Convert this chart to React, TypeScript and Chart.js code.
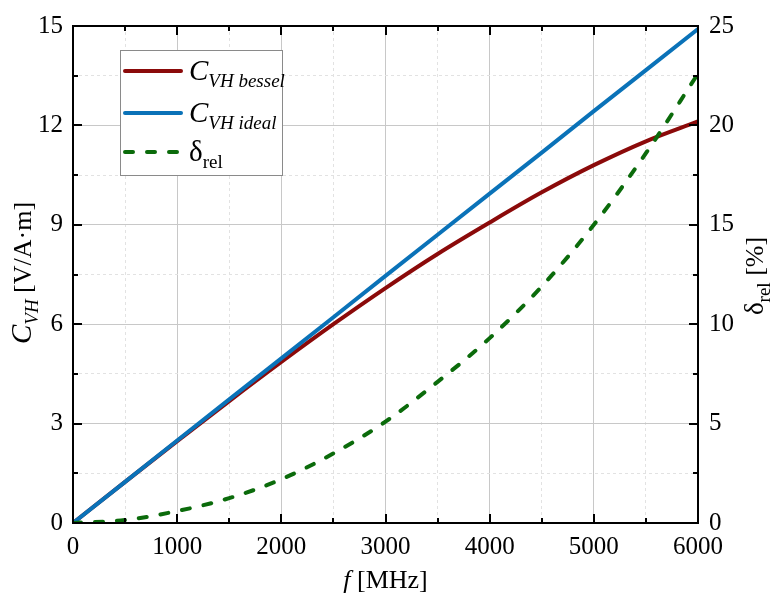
import { useRef, useEffect } from 'react';
import { Chart, registerables } from 'chart.js';

Chart.register(...registerables);

// values
const freqMHz = [0, 500, 1000, 1500, 2000, 2500, 3000, 3500, 4000, 4500, 5000, 5500, 6000];
const cvhIdeal = [0, 1.24, 2.49, 3.73, 4.97, 6.21, 7.46, 8.7, 9.94, 11.18, 12.43, 13.67, 14.91];
const cvhBessel = [0, 1.24, 2.47, 3.68, 4.86, 6.0, 7.09, 8.12, 9.07, 9.98, 10.8, 11.52, 12.12];
const deltaRel = [0, 0.15, 0.6, 1.25, 2.2, 3.5, 5.1, 7.1, 9.3, 11.9, 15.0, 18.6, 22.6];

const RED = '#8b0a0a';
const BLUE = '#0a72b8';
const GREEN = '#0b6b0b';
const SERIF = '"Liberation Serif", "DejaVu Serif", serif';
const DASH = [8, 14];

const isMultiple = (v: number, m: number) => Math.abs(v / m - Math.round(v / m)) < 1e-6;

interface Part {
  t: string;
  font: string;
  dy?: number;
}

function partsWidth(ctx: CanvasRenderingContext2D, parts: Part[]) {
  let w = 0;
  for (const p of parts) {
    ctx.font = p.font;
    w += ctx.measureText(p.t).width;
  }
  return w;
}

function drawParts(ctx: CanvasRenderingContext2D, parts: Part[], x: number, y: number, center: boolean) {
  let cx = center ? x - partsWidth(ctx, parts) / 2 : x;
  ctx.textBaseline = 'alphabetic';
  ctx.textAlign = 'left';
  ctx.fillStyle = '#000';
  for (const p of parts) {
    ctx.font = p.font;
    ctx.fillText(p.t, cx, y + (p.dy || 0));
    cx += ctx.measureText(p.t).width;
  }
}

const decorPlugin = {
  id: 'decor',
  afterDraw(chart: any) {
    const ctx: CanvasRenderingContext2D = chart.ctx;
    const { left, right, top, bottom } = chart.chartArea;
    const sx = chart.scales.x;
    const sy = chart.scales.y;
    const sy1 = chart.scales.y1;
    ctx.save();

    // inward ticks
    ctx.strokeStyle = '#000';
    ctx.lineWidth = 2;
    ctx.beginPath();
    for (const t of sx.ticks) {
      const px = Math.round(sx.getPixelForValue(t.value));
      const len = isMultiple(t.value, 1000) ? 9 : 5;
      ctx.moveTo(px, bottom);
      ctx.lineTo(px, bottom - len);
      ctx.moveTo(px, top);
      ctx.lineTo(px, top + len);
    }
    for (const t of sy.ticks) {
      const py = Math.round(sy.getPixelForValue(t.value));
      const len = isMultiple(t.value, 3) ? 9 : 5;
      ctx.moveTo(left, py);
      ctx.lineTo(left + len, py);
    }
    for (const t of sy1.ticks) {
      const py = Math.round(sy1.getPixelForValue(t.value));
      const len = isMultiple(t.value, 5) ? 9 : 5;
      ctx.moveTo(right, py);
      ctx.lineTo(right - len, py);
    }
    ctx.stroke();

    // frame
    ctx.strokeRect(left, top, right - left, bottom - top);

    // axis titles
    drawParts(
      ctx,
      [
        { t: 'f', font: `italic 26px ${SERIF}` },
        { t: ' [MHz]', font: `26px ${SERIF}` },
      ],
      (left + right) / 2,
      588,
      true
    );

    ctx.save();
    ctx.translate(31, 273);
    ctx.rotate(-Math.PI / 2);
    drawParts(
      ctx,
      [
        { t: 'C', font: `italic 29px ${SERIF}` },
        { t: 'VH', font: `italic 19px ${SERIF}`, dy: 7 },
        { t: ' [V/A\u00b7m]', font: `26px ${SERIF}` },
      ],
      0,
      0,
      true
    );
    ctx.restore();

    ctx.save();
    ctx.translate(763, 276);
    ctx.rotate(-Math.PI / 2);
    drawParts(
      ctx,
      [
        { t: '\u03b4', font: `27px ${SERIF}` },
        { t: 'rel', font: `19px ${SERIF}`, dy: 7 },
        { t: ' [%]', font: `26px ${SERIF}` },
      ],
      0,
      0,
      true
    );
    ctx.restore();

    // legend
    ctx.fillStyle = '#fff';
    ctx.fillRect(120, 50, 162, 125);
    ctx.strokeStyle = '#8a8a8a';
    ctx.lineWidth = 1;
    ctx.strokeRect(120.5, 50.5, 162, 125);

    const entries = [
      { color: RED, dash: [] as number[], y: 71, main: 'C', sub: 'VH bessel', italic: true },
      { color: BLUE, dash: [] as number[], y: 113, main: 'C', sub: 'VH ideal', italic: true },
      { color: GREEN, dash: DASH, y: 152, main: '\u03b4', sub: 'rel', italic: false },
    ];
    for (const e of entries) {
      ctx.strokeStyle = e.color;
      ctx.lineWidth = 4;
      ctx.lineCap = 'round';
      ctx.setLineDash(e.dash);
      ctx.beginPath();
      ctx.moveTo(125, e.y);
      ctx.lineTo(181, e.y);
      ctx.stroke();
      ctx.setLineDash([]);
      const it = e.italic ? 'italic ' : '';
      drawParts(
        ctx,
        [
          { t: e.main, font: `${it}29px ${SERIF}` },
          { t: e.sub, font: `${it}19px ${SERIF}`, dy: 7 },
        ],
        189,
        e.y + 9,
        false
      );
    }

    ctx.restore();
  },
};

function App() {
  const chartRef = useRef<HTMLCanvasElement | null>(null);
  const chartInstance = useRef<Chart | null>(null);

  useEffect(() => {
    document.body.style.margin = '0';
    if (chartInstance.current) {
      chartInstance.current.destroy();
    }
    if (!chartRef.current) return;
    const ctx = chartRef.current.getContext('2d');
    if (!ctx) return;

    const toPoints = (ys: number[]) => freqMHz.map((f, i) => ({ x: f, y: ys[i] }));

    const gridColor = (c: any) => {
      const major = c.tick && c.tick.label !== '';
      return major ? '#c8c8c8' : '#e2e2e2';
    };
    const gridDash = (c: any) => (c.tick && c.tick.label !== '' ? [] : [3, 3]);
    const tickFont = { family: SERIF, size: 25 };

    chartInstance.current = new Chart(ctx, {
      type: 'line',
      data: {
        datasets: [
          {
            label: 'δrel',
            data: toPoints(deltaRel),
            yAxisID: 'y1',
            borderColor: GREEN,
            borderWidth: 4,
            borderDash: DASH,
            borderCapStyle: 'round',
            pointRadius: 0,
            cubicInterpolationMode: 'monotone',
            order: 0,
          },
          {
            label: 'CVH ideal',
            data: toPoints(cvhIdeal),
            yAxisID: 'y',
            borderColor: BLUE,
            borderWidth: 4,
            pointRadius: 0,
            order: 1,
          },
          {
            label: 'CVH bessel',
            data: toPoints(cvhBessel),
            yAxisID: 'y',
            borderColor: RED,
            borderWidth: 4,
            pointRadius: 0,
            cubicInterpolationMode: 'monotone',
            order: 2,
          },
        ],
      },
      options: {
        responsive: true,
        maintainAspectRatio: false,
        animation: false,
        layout: { padding: { top: 19, left: 0, right: 0, bottom: 0 } },
        plugins: {
          legend: { display: false },
          tooltip: { enabled: false },
        },
        scales: {
          x: {
            type: 'linear',
            min: 0,
            max: 6000,
            afterFit: (s: any) => {
              s.height = 77;
            },
            ticks: {
              stepSize: 500,
              autoSkip: false,
              maxRotation: 0,
              padding: 9,
              color: '#000',
              font: tickFont,
              callback: (v: any) => (isMultiple(Number(v), 1000) ? String(v) : ''),
            },
            grid: { color: gridColor, drawTicks: false, lineWidth: 1 },
            border: { display: false, dash: gridDash },
          },
          y: {
            type: 'linear',
            position: 'left',
            min: 0,
            max: 15,
            afterFit: (s: any) => {
              s.width = 73;
            },
            ticks: {
              stepSize: 1.5,
              autoSkip: false,
              padding: 10,
              color: '#000',
              font: tickFont,
              callback: (v: any) => (isMultiple(Number(v), 3) ? String(Math.round(Number(v))) : ''),
            },
            grid: { color: gridColor, drawTicks: false, lineWidth: 1 },
            border: { display: false, dash: gridDash },
          },
          y1: {
            type: 'linear',
            position: 'right',
            min: 0,
            max: 25,
            afterFit: (s: any) => {
              s.width = 85;
            },
            ticks: {
              stepSize: 2.5,
              autoSkip: false,
              padding: 11,
              color: '#000',
              font: tickFont,
              callback: (v: any) => (isMultiple(Number(v), 5) ? String(Math.round(Number(v))) : ''),
            },
            grid: { drawOnChartArea: false, drawTicks: false },
            border: { display: false },
          },
        },
      },
      plugins: [decorPlugin],
    } as any);

    return () => {
      if (chartInstance.current) {
        chartInstance.current.destroy();
        chartInstance.current = null;
      }
    };
  }, []);

  return (
    <div style={{ position: 'relative', width: 783, height: 600, background: '#fff' }}>
      <canvas ref={chartRef}></canvas>
    </div>
  );
}

export default App;
